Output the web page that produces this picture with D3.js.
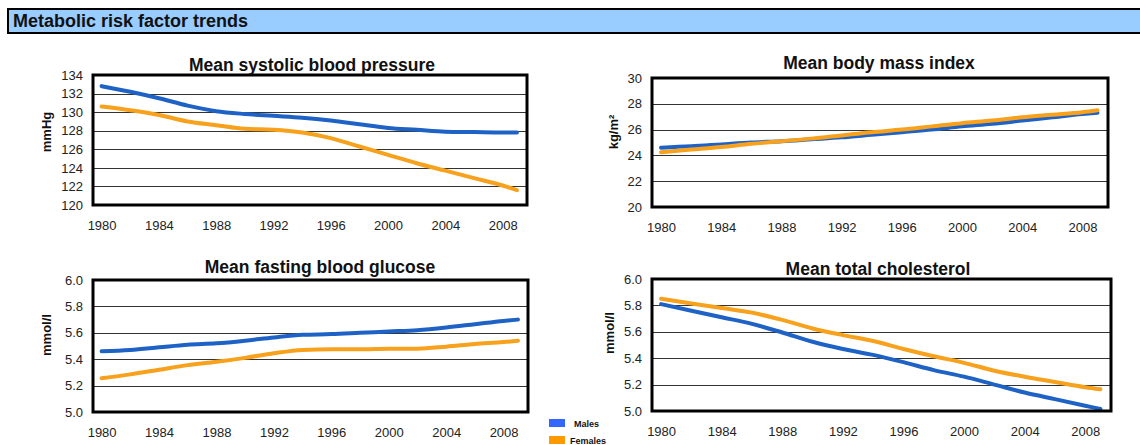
<!DOCTYPE html>
<html><head><meta charset="utf-8">
<script src="https://cdn.jsdelivr.net/npm/d3@7"></script>
<style>
html,body{margin:0;padding:0;background:#fff;}
svg{display:block;font-family:"Liberation Sans",Arial,sans-serif;}
</style></head>
<body>
<svg id="chart" width="1140" height="445"></svg>
<script>
// ---- data ----
const years = [1980,1982,1984,1986,1988,1990,1992,1994,1996,1998,2000,2002,2004,2006,2008,2009];
const xTicks = [1980,1984,1988,1992,1996,2000,2004,2008];
const seriesNames = ["Males","Females"];

const sbpMales   = [132.8,132.2,131.5,130.7,130.1,129.8,129.6,129.4,129.1,128.7,128.3,128.1,127.9,127.85,127.8,127.8];
const sbpFemales = [130.6,130.2,129.7,129.0,128.6,128.2,128.1,127.8,127.2,126.3,125.4,124.5,123.7,122.9,122.1,121.6];
const sbpTicks = [120,122,124,126,128,130,132,134];

const bmiMales   = [24.6,24.7,24.85,25.0,25.1,25.25,25.4,25.6,25.8,26.0,26.25,26.45,26.7,26.95,27.2,27.3];
const bmiFemales = [24.25,24.45,24.65,24.9,25.1,25.3,25.55,25.8,26.0,26.25,26.5,26.7,26.95,27.15,27.35,27.5];
const bmiTicks = [20,22,24,26,28,30];

const gluMales   = [5.46,5.47,5.49,5.51,5.52,5.54,5.565,5.585,5.59,5.60,5.61,5.62,5.64,5.665,5.69,5.70];
const gluFemales = [5.255,5.285,5.32,5.355,5.38,5.41,5.445,5.47,5.475,5.475,5.48,5.48,5.495,5.515,5.53,5.54];
const gluTicks = [5.0,5.2,5.4,5.6,5.8,6.0];

const cholMales   = [5.81,5.76,5.71,5.66,5.595,5.525,5.47,5.425,5.37,5.31,5.26,5.2,5.14,5.09,5.04,5.015];
const cholFemales = [5.85,5.815,5.78,5.745,5.69,5.625,5.575,5.53,5.47,5.415,5.365,5.305,5.26,5.22,5.18,5.165];
const cholTicks = [5.0,5.2,5.4,5.6,5.8,6.0];

// ---- layout ----
const svg = d3.select("#chart");
const colMale = "#1f62c6", colFemale = "#f7a11c";

// header
svg.append("rect").attr("x",8).attr("y",9).attr("width",1140).attr("height",24)
  .attr("fill","#99ccff").attr("stroke","#000").attr("stroke-width",2);
svg.append("text").attr("x",13).attr("y",27).attr("font-size",18).attr("font-weight","bold")
  .attr("fill","#111").text("Metabolic risk factor trends");

const panels = [
  {title:"Mean systolic blood pressure", unit:"mmHg", m:sbpMales, f:sbpFemales, ticks:sbpTicks, dom:[120,134], fmt:d3.format("d"),
   box:[93,75,527,205], tx:312, ty:71, ux:46, uy:132},
  {title:"Mean body mass index", unit:"kg/m²", m:bmiMales, f:bmiFemales, ticks:bmiTicks, dom:[20,30], fmt:d3.format("d"),
   box:[652,78,1108,207], tx:879, ty:69, ux:613, uy:132},
  {title:"Mean fasting blood glucose", unit:"mmol/l", m:gluMales, f:gluFemales, ticks:gluTicks, dom:[5.0,6.0], fmt:d3.format(".1f"),
   box:[93,280,528,412], tx:320, ty:273, ux:46, uy:335},
  {title:"Mean total cholesterol", unit:"mmol/l", m:cholMales, f:cholFemales, ticks:cholTicks, dom:[5.0,6.0], fmt:d3.format(".1f"),
   box:[652,279,1111,411], tx:878, ty:275, ux:609, uy:333}
];

panels.forEach(p => {
  const [x0,y0,x1,y1] = p.box;
  const x = d3.scaleLinear().domain([1979.4,2009.7]).range([x0,x1]);
  const y = d3.scaleLinear().domain(p.dom).range([y1,y0]);
  const g = svg.append("g");

  // gridlines
  g.selectAll("line.grid").data(p.ticks.slice(1,-1)).join("line")
    .attr("x1",x0).attr("x2",x1).attr("y1",d=>Math.round(y(d))+0.5).attr("y2",d=>Math.round(y(d))+0.5)
    .attr("stroke","#333").attr("stroke-width",1);

  // lines
  const line = d3.line().x((d,i)=>x(years[i])).y(d=>y(d)).curve(d3.curveMonotoneX);
  g.append("path").datum(p.m).attr("d",line).attr("fill","none").attr("stroke",colMale)
    .attr("stroke-width",4).attr("stroke-linecap","round").attr("stroke-linejoin","round");
  g.append("path").datum(p.f).attr("d",line).attr("fill","none").attr("stroke",colFemale)
    .attr("stroke-width",4).attr("stroke-linecap","round").attr("stroke-linejoin","round");

  // box
  g.append("rect").attr("x",x0).attr("y",y0).attr("width",x1-x0).attr("height",y1-y0)
    .attr("fill","none").attr("stroke","#000").attr("stroke-width",3);

  // axes
  const ay = g.append("g").attr("transform",`translate(${x0},0)`)
    .call(d3.axisLeft(y).tickValues(p.ticks).tickFormat(p.fmt).tickSize(0).tickPadding(10));
  ay.select(".domain").remove();
  ay.selectAll("text").attr("font-size",13).attr("fill","#222").attr("font-family","Liberation Sans, Arial, sans-serif");

  const ax = g.append("g").attr("transform",`translate(0,${y1})`)
    .call(d3.axisBottom(x).tickValues(xTicks).tickFormat(d3.format("d")).tickSize(0).tickPadding(16));
  ax.select(".domain").remove();
  ax.selectAll("text").attr("font-size",13).attr("fill","#222").attr("font-family","Liberation Sans, Arial, sans-serif");

  // title
  g.append("text").attr("x",p.tx).attr("y",p.ty).attr("text-anchor","middle")
    .attr("font-size",17.5).attr("font-weight","bold").attr("fill","#111").text(p.title);

  // unit
  g.append("text").attr("transform",`translate(${p.ux},${p.uy}) rotate(-90)`).attr("text-anchor","middle")
    .attr("dy","0.35em").attr("font-size",13).attr("font-weight","bold").attr("fill","#111").text(p.unit);
});

// legend
const legColors = ["#3366ff","#ff9900"];
const legY = [419, 436];
const leg = svg.append("g");
seriesNames.forEach((n,i) => {
  leg.append("rect").attr("x",549).attr("y",legY[i]).attr("width",16).attr("height",8).attr("fill",legColors[i]);
  leg.append("text").attr("x",i===0?574:570).attr("y",legY[i]+8).attr("font-size",9).attr("font-weight","bold")
    .attr("fill","#111").text(n);
});
</script>
</body></html>
